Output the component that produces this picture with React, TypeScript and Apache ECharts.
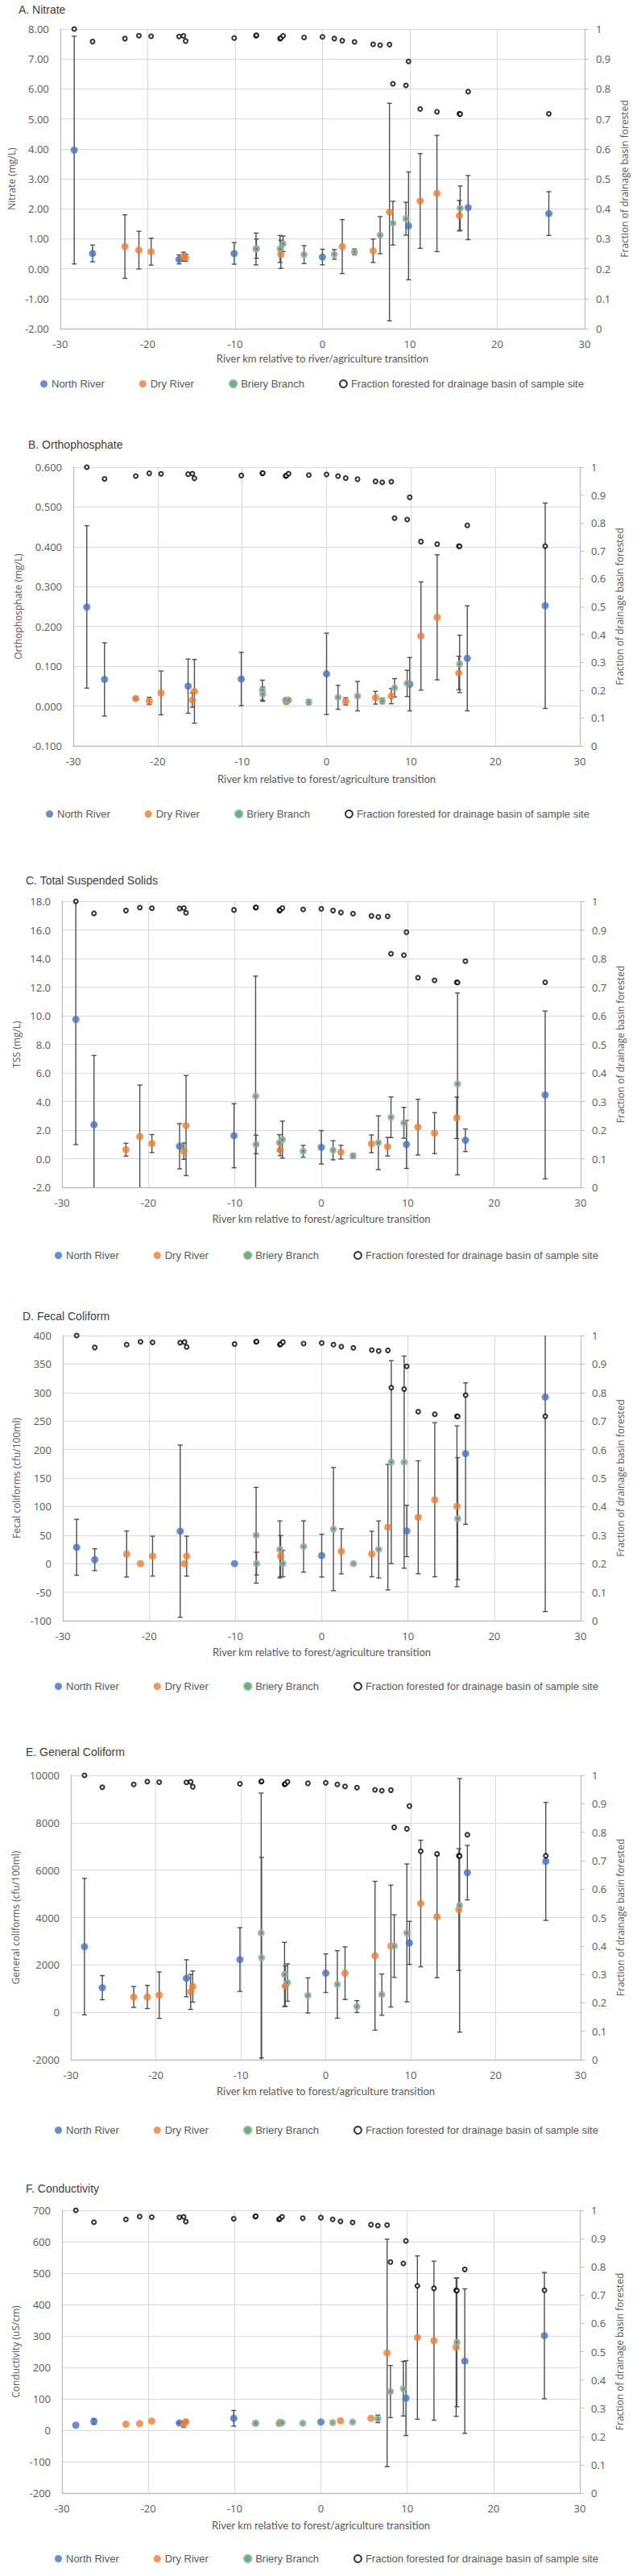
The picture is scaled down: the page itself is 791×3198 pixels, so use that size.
import React, { useEffect, useRef } from "react";
import * as echarts from "echarts";

// Site positions (river km relative to forest/agriculture transition)
const northX = [-28.4, -26.3, -16.4, -10.1, 0, 9.85, 16.67, 25.9];
const dryX = [-22.6, -21.0, -19.6, -15.9, -15.65, -4.76, 2.27, 5.8, 7.67, 11.18, 13.1, 15.67];
const brieryX = [-7.6, -7.55, -4.85, -4.5, -2.1, 1.36, 3.67, 6.6, 8.06, 9.55, 15.76];

// Fraction forested for drainage basin of each sample site
const fractionX = [-28.4, -26.3, -22.6, -21.0, -19.6, -16.4, -15.9, -15.65, -10.1, -7.6, -7.55, -4.85, -4.76, -4.5, -2.1, 0, 1.36, 2.27, 3.67, 5.8, 6.6, 7.67, 8.06, 9.55, 9.85, 11.18, 13.1, 15.67, 15.76, 16.67, 25.9];
const fractionValues = [1.0, 0.958, 0.968, 0.978, 0.976, 0.975, 0.977, 0.96, 0.97, 0.978, 0.979, 0.968, 0.97, 0.977, 0.972, 0.974, 0.968, 0.961, 0.957, 0.949, 0.946, 0.948, 0.817, 0.812, 0.892, 0.733, 0.724, 0.717, 0.716, 0.791, 0.717];

// A. Nitrate (mg/L)
const nitrateNorth = [3.96, 0.51, 0.31, 0.51, 0.39, 1.43, 2.04, 1.84];
const nitrateNorthErr = [3.8, 0.28, 0.15, 0.36, 0.26, 1.8, 1.07, 0.73];
const nitrateDry = [0.74, 0.62, 0.57, 0.4, 0.37, 0.48, 0.74, 0.6, 1.89, 2.26, 2.51, 1.77];
const nitrateDryErr = [1.06, 0.63, 0.45, 0.15, 0.12, 0.47, 0.9, 0.39, 3.63, 1.58, 1.94, 0.51];
const nitrateBriery = [0.66, 0.67, 0.66, 0.83, 0.47, 0.48, 0.56, 1.12, 1.52, 1.67, 2.02];
const nitrateBrieryErr = [0.53, 0.32, 0.45, 0.26, 0.3, 0.16, 0.1, 0.62, 0.73, 0.55, 0.74];

// B. Orthophosphate (mg/L)
const phosphateNorth = [0.249, 0.067, 0.05, 0.068, 0.081, 0.055, 0.12, 0.252];
const phosphateNorthErr = [0.204, 0.092, 0.068, 0.067, 0.102, 0.067, 0.132, 0.258];
const phosphateDry = [0.019, 0.013, 0.033, 0.015, 0.037, 0.011, 0.012, 0.021, 0.025, 0.176, 0.223, 0.083];
const phosphateDryErr = [0.003, 0.009, 0.055, 0.018, 0.08, 0.005, 0.009, 0.016, 0.019, 0.136, 0.157, 0.042];
const phosphateBriery = [0.04, 0.03, 0.015, 0.015, 0.01, 0.022, 0.025, 0.013, 0.046, 0.057, 0.106];
const phosphateBrieryErr = [0.025, 0.018, 0.004, 0.004, 0.006, 0.03, 0.037, 0.007, 0.023, 0.033, 0.072];

// C. Total Suspended Solids (mg/L)
const tssNorth = [9.74, 2.38, 0.87, 1.61, 0.8, 1.0, 1.29, 4.46];
const tssNorthErr = [8.75, 4.84, 1.58, 2.24, 1.17, 1.68, 0.79, 5.87];
const tssDry = [0.63, 1.55, 1.06, 0.53, 2.32, 0.61, 0.46, 1.04, 0.84, 2.21, 1.79, 2.86];
const tssDryErr = [0.45, 3.6, 0.63, 0.57, 3.5, 0.4, 0.48, 0.62, 0.65, 1.95, 1.43, 1.45];
const tssBriery = [4.37, 1.0, 1.12, 1.34, 0.52, 0.59, 0.2, 1.12, 2.9, 2.51, 5.23];
const tssBrieryErr = [8.4, 0.65, 0.56, 1.29, 0.41, 0.67, 0.16, 1.88, 1.42, 1.08, 6.36];

// D. Fecal coliforms (cfu/100ml)
const fecalNorth = [28.7, 7.0, 56.9, 0, 14.1, 57.3, 193, 292];
const fecalNorthErr = [49, 19, 151, 0, 37.6, 45, 124, 376];
const fecalDry = [16.9, 0, 13.2, 0, 13.2, 13.2, 21.6, 16.9, 63.9, 81.3, 112, 100.6];
const fecalDryErr = [40.4, 0, 35, 0, 35, 36, 39.5, 40, 110, 99, 135, 141];
const fecalBriery = [49.8, 0, 24.9, 0, 30, 60.6, 0, 24.9, 178, 178, 79];
const fecalBrieryErr = [84, 20, 50, 23, 45, 108, 0, 50, 178, 186, 107];

// E. General coliforms (cfu/100ml)
const generalNorth = [2771, 1040, 1436, 2228, 1651, 2929, 5893, 6368];
const generalNorthErr = [2880, 510, 780, 1345, 815, 910, 1150, 2490];
const generalDry = [647, 647, 724, 860, 1086, 1108, 1651, 2386, 2794, 4592, 4038, 4332];
const generalDryErr = [440, 490, 980, 740, 656, 850, 1110, 3140, 2570, 2670, 2580, 2570];
const generalBriery = [3350, 2307, 1595, 1255, 712, 1176, 240, 746, 2794, 3348, 4513];
const generalBrieryErr = [5900, 4230, 1357, 790, 740, 1425, 250, 870, 1320, 2910, 5350];

// F. Conductivity (uS/cm)
const conductivityNorth = [16, 28, 23, 38, 26, 102, 220, 301];
const conductivityNorthErr = [0, 9, 2, 25, 0, 119, 230, 201];
const conductivityDry = [19, 21, 29, 19, 27, 25, 30, 38, 246, 295, 285, 264];
const conductivityDryErr = [0, 0, 0, 10, 3, 0, 0, 0, 362, 260, 253, 220];
const conductivityBriery = [22, 22, 21, 24, 22, 24, 26, 36, 123, 132, 280];
const conductivityBrieryErr = [0, 0, 0, 0, 0, 0, 0, 12, 83, 87, 205];

const xTitleRiver = "River km relative to river/agriculture transition";
const xTitleForest = "River km relative to forest/agriculture transition";
const rightTitle = "Fraction of drainage basin forested";
const NAME_N = "North River";
const NAME_D = "Dry River";
const NAME_B = "Briery Branch";
const NAME_F = "Fraction forested for drainage basin of sample site";

const panels = [
  { title: "A. Nitrate", yName: "Nitrate (mg/L)", xName: xTitleRiver, min: -2, max: 8, interval: 1, dec: 2,
    grid: [63, 36, 663, 372], titlePos: [18, 0], legendPos: [45, 465], yGap: 44, xGap: 30,
    n: [nitrateNorth, nitrateNorthErr], d: [nitrateDry, nitrateDryErr], b: [nitrateBriery, nitrateBrieryErr] },
  { title: "B. Orthophosphate", yName: "Orthophosphate (mg/L)", xName: xTitleForest, min: -0.1, max: 0.6, interval: 0.1, dec: 3,
    grid: [91, 580, 629, 346], titlePos: [30, 540], legendPos: [52, 999], yGap: 58, xGap: 34,
    n: [phosphateNorth, phosphateNorthErr], d: [phosphateDry, phosphateDryErr], b: [phosphateBriery, phosphateBrieryErr] },
  { title: "C. Total Suspended Solids", yName: "TSS (mg/L)", xName: xTitleForest, min: -2, max: 18, interval: 2, dec: 1,
    grid: [77, 1119, 644, 355], titlePos: [27, 1081], legendPos: [63, 1547], yGap: 46, xGap: 32,
    n: [tssNorth, tssNorthErr], d: [tssDry, tssDryErr], b: [tssBriery, tssBrieryErr] },
  { title: "D. Fecal Coliform", yName: "Fecal coliforms (cfu/100ml)", xName: xTitleForest, min: -100, max: 400, interval: 50, dec: 0,
    grid: [78, 1658, 643, 354], titlePos: [23, 1622], legendPos: [63, 2082], yGap: 47, xGap: 32,
    n: [fecalNorth, fecalNorthErr], d: [fecalDry, fecalDryErr], b: [fecalBriery, fecalBrieryErr] },
  { title: "E. General Coliform", yName: "General coliforms (cfu/100ml)", xName: xTitleForest, min: -2000, max: 10000, interval: 2000, dec: 0,
    grid: [88, 2204, 633, 353], titlePos: [27, 2163], legendPos: [63, 2633], yGap: 57, xGap: 32,
    n: [generalNorth, generalNorthErr], d: [generalDry, generalDryErr], b: [generalBriery, generalBrieryErr] },
  { title: "F. Conductivity", yName: "Conductivity (uS/cm)", xName: xTitleForest, min: -200, max: 700, interval: 100, dec: 0,
    grid: [77, 2744, 643, 351], titlePos: [27, 2705], legendPos: [63, 3165], yGap: 46, xGap: 33,
    n: [conductivityNorth, conductivityNorthErr], d: [conductivityDry, conductivityDryErr], b: [conductivityBriery, conductivityBrieryErr] },
];

const GRID_COLOR = "#D9D9D9";
const AXIS_COLOR = "#BFBFBF";
const TEXT_COLOR = "#595959";
const BAR_COLOR = "#4F4F4F";
const BRIERY_STYLE = { color: "#1DB14B", borderColor: "#A5A5A5", borderWidth: 3 };

function errorBars(xs: number[], vals: number[], errs: number[], i: number, yMin: number, yMax: number) {
  const data: number[][] = [];
  xs.forEach((x, k) => {
    if (errs[k] > 0) data.push([x, vals[k] - errs[k], vals[k] + errs[k]]);
  });
  return {
    type: "custom",
    xAxisIndex: i,
    yAxisIndex: i * 2,
    silent: true,
    z: 2,
    data,
    renderItem: (_params: any, api: any) => {
      const x = api.value(0);
      const lo = api.value(1);
      const hi = api.value(2);
      const loC = Math.max(lo, yMin);
      const hiC = Math.min(hi, yMax);
      const p1 = api.coord([x, loC]);
      const p2 = api.coord([x, hiC]);
      const style = { stroke: BAR_COLOR, lineWidth: 1.4 };
      const children: any[] = [
        { type: "line", shape: { x1: p1[0], y1: p1[1], x2: p2[0], y2: p2[1] }, style },
      ];
      if (lo >= yMin) children.push({ type: "line", shape: { x1: p1[0] - 3, y1: p1[1], x2: p1[0] + 3, y2: p1[1] }, style });
      if (hi <= yMax) children.push({ type: "line", shape: { x1: p2[0] - 3, y1: p2[1], x2: p2[0] + 3, y2: p2[1] }, style });
      return { type: "group", children };
    },
  };
}

function pts(xs: number[], vals: number[]) {
  return xs.map((x, k) => [x, vals[k]]);
}

function buildOption() {
  const grid: any[] = [];
  const xAxis: any[] = [];
  const yAxis: any[] = [];
  const series: any[] = [];
  const title: any[] = [];
  const legend: any[] = [];

  const nameStyle = { fontFamily: "Open Sans", fontSize: 12, color: TEXT_COLOR };
  const labelStyle = { fontFamily: "Open Sans", fontSize: 13, color: TEXT_COLOR };

  panels.forEach((p, i) => {
    grid.push({ left: p.grid[0], top: p.grid[1], width: p.grid[2], height: p.grid[3] });
    title.push({
      text: p.title, left: p.titlePos[0], top: p.titlePos[1],
      textStyle: { fontFamily: "Liberation Sans", fontSize: 14, fontWeight: "normal", color: "#404040" },
    });
    xAxis.push({
      type: "value", gridIndex: i, min: -30, max: 30, interval: 10,
      name: p.xName, nameLocation: "middle", nameGap: p.xGap,
      nameTextStyle: { fontFamily: "Lato", fontSize: 13, color: TEXT_COLOR },
      axisLine: { show: true, onZero: false, lineStyle: { color: AXIS_COLOR, width: 1.3 } },
      axisTick: { show: false },
      axisLabel: { ...labelStyle, margin: 12 },
      splitLine: { show: true, lineStyle: { color: GRID_COLOR, width: 1 } },
    });
    yAxis.push({
      type: "value", gridIndex: i, position: "left", min: p.min, max: p.max, interval: p.interval,
      name: p.yName, nameLocation: "middle", nameGap: p.yGap, nameRotate: 90, nameTextStyle: nameStyle,
      axisLine: { show: true, onZero: false, lineStyle: { color: AXIS_COLOR, width: 1.3 } },
      axisTick: { show: false },
      axisLabel: {
        ...labelStyle, margin: 14,
        formatter: (v: number) => (Math.abs(v) < 1e-9 ? 0 : v).toFixed(p.dec),
      },
      splitLine: { show: true, lineStyle: { color: GRID_COLOR, width: 1 } },
    });
    yAxis.push({
      type: "value", gridIndex: i, position: "right", min: 0, max: 1, interval: 0.1,
      name: rightTitle, nameLocation: "middle", nameGap: 40, nameRotate: 90, nameTextStyle: nameStyle,
      axisLine: { show: true, onZero: false, lineStyle: { color: AXIS_COLOR, width: 1.3 } },
      axisTick: { show: true, length: 5, lineStyle: { color: AXIS_COLOR } },
      axisLabel: { ...labelStyle, margin: 14, formatter: (v: number) => String(Math.round(v * 10) / 10) },
      splitLine: { show: false },
    });

    series.push(errorBars(northX, p.n[0], p.n[1], i, p.min, p.max));
    series.push(errorBars(dryX, p.d[0], p.d[1], i, p.min, p.max));
    series.push(errorBars(brieryX, p.b[0], p.b[1], i, p.min, p.max));

    series.push({
      type: "scatter", name: NAME_N, xAxisIndex: i, yAxisIndex: i * 2, z: 3,
      symbol: "circle", symbolSize: 9, itemStyle: { color: "#4472C4" }, data: pts(northX, p.n[0]),
    });
    series.push({
      type: "scatter", name: NAME_D, xAxisIndex: i, yAxisIndex: i * 2, z: 3,
      symbol: "circle", symbolSize: 9, itemStyle: { color: "#ED7D31" }, data: pts(dryX, p.d[0]),
    });
    series.push({
      type: "scatter", name: NAME_B, xAxisIndex: i, yAxisIndex: i * 2, z: 3,
      symbol: "circle", symbolSize: 6, itemStyle: BRIERY_STYLE,
      data: pts(brieryX, p.b[0]),
    });
    series.push({
      type: "scatter", name: NAME_F, xAxisIndex: i, yAxisIndex: i * 2 + 1, z: 4,
      symbol: "circle", symbolSize: 5, itemStyle: { color: "#FFFFFF", borderColor: "#000000", borderWidth: 2 },
      data: pts(fractionX, fractionValues),
    });

    legend.push({
      left: p.legendPos[0], top: p.legendPos[1], itemGap: 43, itemWidth: 9, itemHeight: 9,
      selectedMode: false,
      textStyle: { fontFamily: "Liberation Sans", fontSize: 13, color: TEXT_COLOR },
      data: [
        { name: NAME_N, icon: "circle" },
        { name: NAME_D, icon: "circle" },
        { name: NAME_B, icon: "circle", itemStyle: { color: "#1DB14B", borderColor: "#A5A5A5", borderWidth: 2.5 } },
        { name: NAME_F, icon: "circle", itemStyle: { color: "#FFFFFF", borderColor: "#000000", borderWidth: 2 } },
      ],
    });
  });

  return {
    animation: false,
    backgroundColor: "#FFFFFF",
    title, legend, grid, xAxis, yAxis, series,
  };
}

export default function App() {
  const ref = useRef<HTMLDivElement>(null);
  useEffect(() => {
    if (!ref.current) return;
    const chart = echarts.init(ref.current, null, { renderer: "svg" });
    chart.setOption(buildOption() as any);
    return () => chart.dispose();
  }, []);
  return (
    <div
      ref={ref}
      style={{ position: "absolute", left: 0, top: 0, width: 791, height: 3198, background: "#fff" }}
    />
  );
}
